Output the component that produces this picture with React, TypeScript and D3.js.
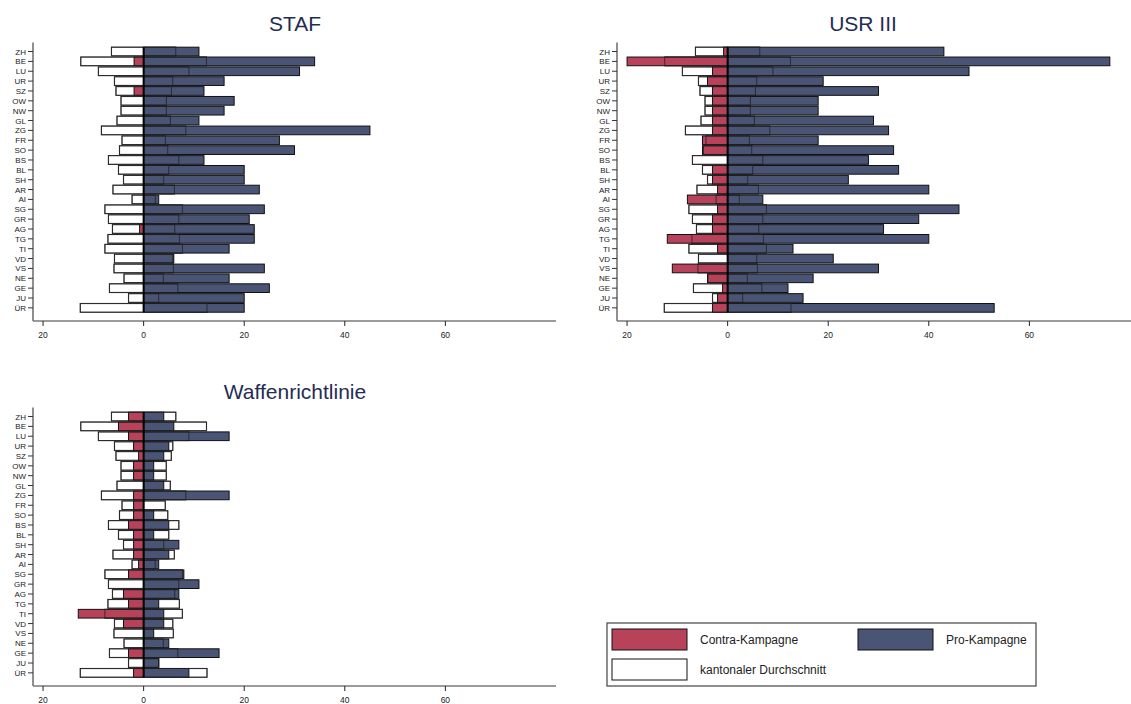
import React from "react";
import * as d3 from "d3";

const cantons = ["ZH", "BE", "LU", "UR", "SZ", "OW", "NW", "GL", "ZG", "FR", "SO", "BS", "BL", "SH", "AR", "AI", "SG", "GR", "AG", "TG", "TI", "VD", "VS", "NE", "GE", "JU", "ÜR"];

// kantonaler Durchschnitt (drawn symmetric around 0)
const avg = [6.4, 12.5, 9.0, 5.8, 5.5, 4.5, 4.5, 5.3, 8.4, 4.3, 4.8, 7.0, 5.0, 4.0, 6.1, 2.3, 7.7, 7.0, 6.2, 7.1, 7.7, 5.8, 5.9, 3.9, 6.8, 3.0, 12.6];

const stafContra = [0, 1.9, 0, 0, 1.9, 0, 0, 0, 0, 0, 0, 0, 0, 0, 0, 0, 0, 0, 0.8, 0, 0, 0, 0, 0, 0, 0, 0];
const stafPro = [11, 34, 31, 16, 12, 18, 16, 11, 45, 27, 30, 12, 20, 20, 23, 3, 24, 21, 22, 22, 17, 6, 24, 17, 25, 20, 20];

const usrContra = [0.8, 20, 3, 4, 3, 3, 3, 3, 3, 5, 5, 0, 3, 3, 2, 8, 2, 3, 3, 12, 2, 0, 11, 4, 1, 2, 3];
const usrPro = [43, 76, 48, 19, 30, 18, 18, 29, 32, 18, 33, 28, 34, 24, 40, 7, 46, 38, 31, 40, 13, 21, 30, 17, 12, 15, 53];

const waffContra = [3, 5, 3, 2, 1, 2, 2, 0, 2, 2, 2, 3, 2, 2, 2, 1, 3, 0, 4, 3, 13, 4, 0, 0, 3, 0, 2];
const waffPro = [4, 6, 17, 5, 4, 2, 2, 4, 17, 0, 2, 5, 2, 7, 5, 3, 8, 11, 7, 3, 4, 4, 2, 5, 15, 3, 9];

const xTicks = [-20, 0, 20, 40, 60];

const RED = "#b8425a";
const BLUE = "#4a5474";
const TITLE = "#1f2d55";
const FONT = "'Liberation Sans', Arial, sans-serif";

const panels = [
  { title: "STAF", contra: stafContra, pro: stafPro, left: 33, top: 46.6, titleX: 295, titleY: 31 },
  { title: "USR III", contra: usrContra, pro: usrPro, left: 617, top: 46.6, titleX: 863, titleY: 31 },
  { title: "Waffenrichtlinie", contra: waffContra, pro: waffPro, left: 33, top: 411.6, titleX: 295, titleY: 399 },
];

function Panel({ p }) {
  const x = d3.scaleLinear().domain([-22, 82]).range([p.left, p.left + 523]);
  const y = d3.scaleBand().domain(cantons).range([p.top, p.top + 266.2]).padding(0);
  const bh = 8.7;
  const by = (c) => y(c) + y.bandwidth() / 2 - bh / 2;
  const axisY = p.top + 274.4;
  const rows = cantons.map((c, i) => ({ c, a: avg[i], con: p.contra[i], pro: p.pro[i] }));

  return (
    <g>
      <text x={p.titleX} y={p.titleY} textAnchor="middle" fontSize={21} fill={TITLE} fontFamily={FONT}>
        {p.title}
      </text>
      {/* axes */}
      <line x1={p.left} x2={p.left} y1={p.top - 4} y2={axisY} stroke="#6a6a6a" strokeWidth={1.5} />
      <line x1={p.left} x2={p.left + 523} y1={axisY} y2={axisY} stroke="#7a7a7a" strokeWidth={1.5} />
      {cantons.map((c) => (
        <g key={c}>
          <line x1={p.left - 5} x2={p.left} y1={y(c) + y.bandwidth() / 2} y2={y(c) + y.bandwidth() / 2} stroke="#333" strokeWidth={1} />
          <text x={p.left - 7} y={y(c) + y.bandwidth() / 2 + 3} textAnchor="end" fontSize={8} fill="#222" fontFamily={FONT}>
            {c}
          </text>
        </g>
      ))}
      {xTicks.map((t) => (
        <g key={t}>
          <line x1={x(t)} x2={x(t)} y1={axisY} y2={axisY + 5} stroke="#222" strokeWidth={1} />
          <text x={x(t)} y={axisY + 17} textAnchor="middle" fontSize={8.5} fill="#222" fontFamily={FONT}>
            {Math.abs(t)}
          </text>
        </g>
      ))}
      {/* kantonaler Durchschnitt */}
      {rows.map((r) => (
        <rect key={"w" + r.c} x={x(-r.a)} y={by(r.c)} width={x(r.a) - x(-r.a)} height={bh} fill="#fff" stroke="#555" strokeWidth={1.2} />
      ))}
      {rows.filter((r) => r.con > 0).map((r) => (
        <rect key={"r" + r.c} x={x(-r.con)} y={by(r.c)} width={x(0) - x(-r.con)} height={bh} fill={RED} stroke="#111" strokeWidth={1} />
      ))}
      {rows.filter((r) => r.pro > 0).map((r) => (
        <rect key={"b" + r.c} x={x(0)} y={by(r.c)} width={x(r.pro) - x(0)} height={bh} fill={BLUE} stroke="#111" strokeWidth={1} />
      ))}
      {rows.map((r) => (
        <rect key={"o" + r.c} x={x(-r.a)} y={by(r.c)} width={x(r.a) - x(-r.a)} height={bh} fill="none" stroke="#222" strokeWidth={0.8} />
      ))}
      <line x1={x(0)} x2={x(0)} y1={by(cantons[0])} y2={by(cantons[cantons.length - 1]) + bh} stroke="#000" strokeWidth={2} />
    </g>
  );
}

function Legend() {
  const items = [
    { label: "Contra-Kampagne", fill: RED, x: 612, y: 629 },
    { label: "Pro-Kampagne", fill: BLUE, x: 858, y: 629 },
    { label: "kantonaler Durchschnitt", fill: "#fff", x: 612, y: 659 },
  ];
  return (
    <g>
      <rect x={607} y={623} width={429} height={63} fill="#fff" stroke="#444" strokeWidth={1.2} />
      {items.map((it) => (
        <g key={it.label}>
          <rect x={it.x} y={it.y} width={75} height={21} fill={it.fill} stroke="#111" strokeWidth={1} />
          <text x={it.x + 88} y={it.y + 15} fontSize={12} fill="#222" fontFamily={FONT}>
            {it.label}
          </text>
        </g>
      ))}
    </g>
  );
}

export default function App() {
  return (
    <svg width={1131} height={704} style={{ position: "absolute", left: 0, top: 0, background: "#fff" }}>
      {panels.map((p) => (
        <Panel key={p.title} p={p} />
      ))}
      <Legend />
    </svg>
  );
}
